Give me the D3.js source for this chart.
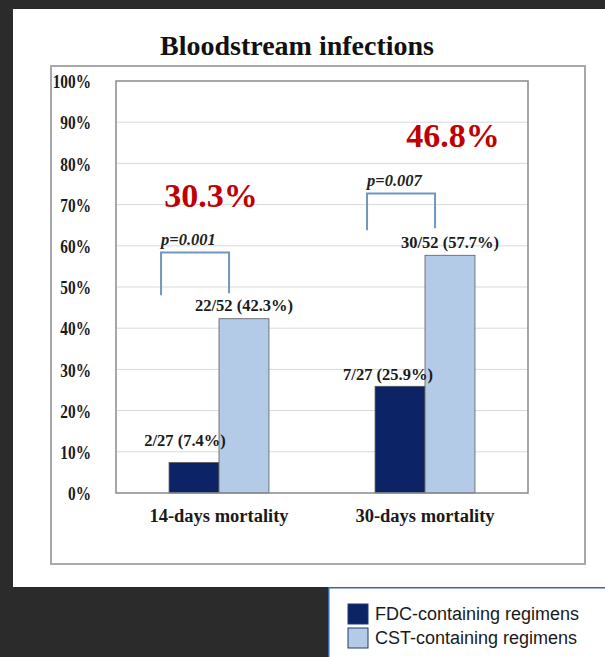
<!DOCTYPE html>
<html>
<head>
<meta charset="utf-8">
<script src="https://cdn.jsdelivr.net/npm/d3@7"></script>
<style>
  html, body { margin: 0; padding: 0; background: #2b2b2b; }
  svg { display: block; }
</style>
</head>
<body>
<svg id="chart" width="605" height="657"></svg>
<script>
// ---- data ----
const categories = ["14-days mortality", "30-days mortality"];
const seriesNames = ["FDC-containing regimens", "CST-containing regimens"];
const fdcValues = [7.4, 25.9];
const cstValues = [42.3, 57.7];
const fdcLabels = ["2/27 (7.4%)", "7/27 (25.9%)"];
const cstLabels = ["22/52 (42.3%)", "30/52 (57.7%)"];
const yTicks = [0, 10, 20, 30, 40, 50, 60, 70, 80, 90, 100];
const pValues = ["p=0.001", "p=0.007"];
const bracketTop = [58.4, 72.7];
const bracketBottom = [48, 63.8];
const bigValues = ["30.3%", "46.8%"];
const bigValueLevel = [69.4, 84];

// ---- layout ----
const W = 605, H = 657;
const plot = { left: 116, right: 528, top: 81, bottom: 493 };
const colors = { fdc: "#0c2366", cst: "#b3cbe6" };
const serif = "'Liberation Serif', 'Times New Roman', serif";
const sans = "'Liberation Sans', Arial, sans-serif";

const svg = d3.select("#chart");

// page backdrop, white panel and legend card
svg.append("rect").attr("width", W).attr("height", H).attr("fill", "#2b2b2b");
svg.append("rect").attr("x", 13).attr("y", 9).attr("width", W - 13).attr("height", 578).attr("fill", "#fff");

// outer chart frame
svg.append("rect").attr("x", 51).attr("y", 66).attr("width", 534).attr("height", 498)
  .attr("fill", "none").attr("stroke", "#a8a8a8").attr("stroke-width", 2);

// title
svg.append("text").attr("x", 297).attr("y", 55).attr("text-anchor", "middle")
  .attr("font-family", serif).attr("font-weight", "bold").attr("font-size", 28)
  .attr("fill", "#111").text("Bloodstream infections");

// scales
const y = d3.scaleLinear().domain([0, 100]).range([plot.bottom, plot.top]);
const x0 = d3.scaleBand().domain(categories).range([plot.left, plot.right])
  .paddingInner(0.515).paddingOuter(0.2575);
const x1 = d3.scaleBand().domain(seriesNames).range([0, x0.bandwidth()]);

// gridlines
svg.append("g").selectAll("line").data(yTicks.filter(t => t > 0 && t < 100)).join("line")
  .attr("x1", plot.left).attr("x2", plot.right)
  .attr("y1", d => y(d)).attr("y2", d => y(d))
  .attr("stroke", "#d9d9d9").attr("stroke-width", 1);

// y axis labels (tall, narrow serif figures)
const yAxis = d3.axisLeft(y).tickValues(yTicks).tickFormat(d => d + "%").tickSize(0).tickPadding(0);
const gy = svg.append("g").attr("transform", `translate(91,0)`).call(yAxis);
gy.select(".domain").remove();
gy.selectAll("text")
  .attr("font-family", serif).attr("font-weight", "bold").attr("font-size", 16.5)
  .attr("fill", "#1a1a1a").attr("dy", "0.34em")
  .attr("transform", "scale(0.93,1.2)");

// bars
const rows = categories.map((c, i) => ({ cat: c, i, values: [
  { s: seriesNames[0], v: fdcValues[i], label: fdcLabels[i], color: colors.fdc },
  { s: seriesNames[1], v: cstValues[i], label: cstLabels[i], color: colors.cst }
]}));

const groups = svg.append("g").selectAll("g").data(rows).join("g")
  .attr("transform", d => `translate(${x0(d.cat)},0)`);

groups.selectAll("rect").data(d => d.values).join("rect")
  .attr("x", d => x1(d.s)).attr("width", x1.bandwidth())
  .attr("y", d => y(d.v)).attr("height", d => y(0) - y(d.v))
  .attr("fill", d => d.color).attr("stroke", "#5a5a5a").attr("stroke-width", 0.8);

// value labels above bars (FDC labels sit slightly left of their bar)
const labelShift = [[-9, -17], [0, -8], [-12, -6], [0, -7]];
groups.selectAll("text.val").data((d) => d.values.map((v, j) => ({ ...v, k: d.i * 2 + j }))).join("text")
  .attr("class", "val")
  .attr("x", d => x1(d.s) + x1.bandwidth() / 2 + labelShift[d.k][0])
  .attr("y", d => y(d.v) + labelShift[d.k][1])
  .attr("text-anchor", "middle")
  .attr("font-family", serif).attr("font-weight", "bold").attr("font-size", 16.5)
  .attr("fill", "#1a1a1a").text(d => d.label);

// plot frame
svg.append("rect").attr("x", plot.left).attr("y", plot.top)
  .attr("width", plot.right - plot.left).attr("height", plot.bottom - plot.top)
  .attr("fill", "none").attr("stroke", "#8a8a8a").attr("stroke-width", 1.5);

// x axis labels
const xAxis = d3.axisBottom(x0).tickSize(0).tickPadding(0);
const gx = svg.append("g").attr("transform", `translate(0,${plot.bottom})`).call(xAxis);
gx.select(".domain").remove();
gx.selectAll("text")
  .attr("font-family", serif).attr("font-weight", "bold").attr("font-size", 18.5)
  .attr("fill", "#1a1a1a").attr("dy", 29);

// significance brackets
groups.append("path")
  .attr("d", (d) => {
    const l = -8, r = 60;
    return `M${l},${y(bracketBottom[d.i])}V${y(bracketTop[d.i])}H${r}V${y(bracketBottom[d.i]) - 2}`;
  })
  .attr("fill", "none").attr("stroke", "#7197bd").attr("stroke-width", 2);

groups.append("text")
  .attr("x", -8).attr("y", d => y(bracketTop[d.i]) - 7)
  .attr("font-family", serif).attr("font-weight", "bold").attr("font-style", "italic")
  .attr("font-size", 16.5).attr("fill", "#222").text(d => pValues[d.i]);

// highlighted percentages
const bigShift = [-8, 28];
groups.append("text")
  .attr("x", d => x0.bandwidth() / 2 + bigShift[d.i])
  .attr("y", d => y(bigValueLevel[d.i]))
  .attr("text-anchor", "middle")
  .attr("font-family", serif).attr("font-weight", "bold").attr("font-size", 34)
  .attr("fill", "#c00000").text(d => bigValues[d.i]);

// legend card
const lg = svg.append("g").attr("transform", "translate(328,587)");
lg.append("rect").attr("x", 0.75).attr("y", 0.75).attr("width", 300).attr("height", 100)
  .attr("fill", "#fff").attr("stroke", "#3a66ad").attr("stroke-width", 1.5);
const items = lg.selectAll("g").data(seriesNames).join("g")
  .attr("transform", (d, i) => `translate(20,${17 + i * 24})`);
items.append("rect").attr("width", 20).attr("height", 20)
  .attr("fill", (d, i) => i === 0 ? colors.fdc : colors.cst)
  .attr("stroke", "#1f3a6e").attr("stroke-width", 1);
items.append("text").attr("x", 27).attr("y", 10).attr("dy", "0.35em")
  .attr("font-family", sans).attr("font-size", 18).attr("fill", "#1a1a1a")
  .text(d => d);
</script>
</body>
</html>
